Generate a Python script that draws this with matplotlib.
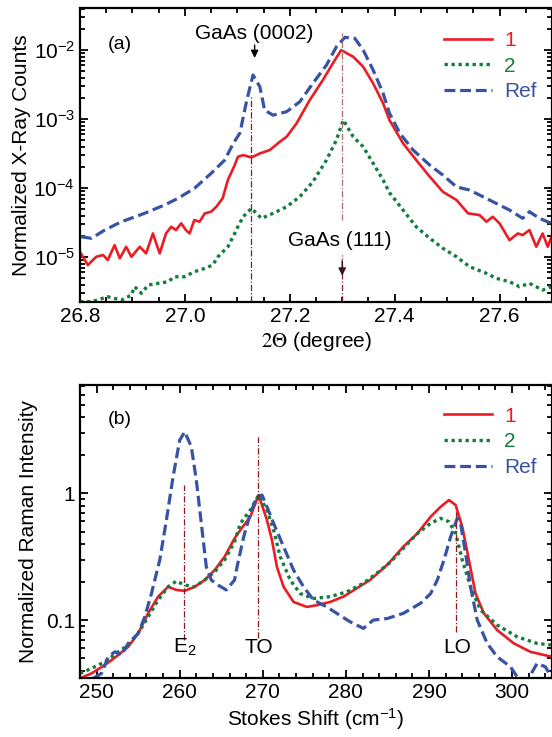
import numpy as np
import matplotlib
matplotlib.use("Agg")
import matplotlib.pyplot as plt
from matplotlib.ticker import MultipleLocator, LogLocator, FuncFormatter, NullFormatter

plt.rcParams['font.family'] = ['Liberation Sans', 'DejaVu Sans']
plt.rcParams['mathtext.fontset'] = 'stix'

# ---- (a) X-ray diffraction ----
xrd_theta_ref = [26.802, 26.822, 26.847, 26.879, 26.923, 26.961, 26.987, 27.018, 27.050, 27.076,
                 27.092, 27.105, 27.118, 27.130, 27.143, 27.152, 27.168, 27.194, 27.219, 27.244,
                 27.270, 27.289, 27.305, 27.324, 27.340, 27.359, 27.378, 27.390, 27.410, 27.435,
                 27.467, 27.492, 27.518, 27.543, 27.581, 27.619, 27.644, 27.657, 27.676, 27.699]
xrd_counts_ref = [1.97e-5, 1.87e-5, 2.46e-5, 3.25e-5, 4.30e-5, 5.68e-5, 7.1e-5, 9.9e-5, 1.63e-4, 2.55e-4,
                  4.4e-4, 6.3e-4, 1.88e-3, 4.35e-3, 2.94e-3, 1.35e-3, 1.14e-3, 1.28e-3, 1.78e-3, 3.29e-3,
                  6.06e-3, 1.12e-2, 1.53e-2, 1.48e-2, 1.0e-2, 5.13e-3, 2.36e-3, 1.22e-3, 6.21e-4, 3.56e-4,
                  2.15e-4, 1.54e-4, 1.04e-4, 9.35e-5, 6.7e-5, 4.8e-5, 3.64e-5, 4.54e-5, 3.64e-5, 3.08e-5]

xrd_theta_1 = [26.800, 26.815, 26.831, 26.844, 26.853, 26.866, 26.876, 26.888, 26.898, 26.914,
               26.926, 26.939, 26.952, 26.964, 26.974, 26.983, 26.993, 27.002, 27.009, 27.018,
               27.028, 27.038, 27.050, 27.060, 27.072, 27.082, 27.095, 27.101, 27.111, 27.127,
               27.143, 27.162, 27.181, 27.194, 27.213, 27.238, 27.263, 27.282, 27.298, 27.321,
               27.340, 27.359, 27.378, 27.390, 27.416, 27.441, 27.467, 27.492, 27.518, 27.540,
               27.562, 27.575, 27.587, 27.600, 27.619, 27.635, 27.644, 27.657, 27.670, 27.682,
               27.692, 27.699]
xrd_counts_1 = [1.19e-5, 7.66e-6, 1.01e-5, 1.07e-5, 9.05e-6, 1.49e-5, 9.57e-6, 1.41e-5, 1.01e-5, 1.41e-5,
                1.13e-5, 2.2e-5, 1.13e-5, 2.2e-5, 2.75e-5, 2.46e-5, 3.08e-5, 2.46e-5, 2.2e-5, 3.44e-5,
                3.25e-5, 4.3e-5, 4.54e-5, 5.36e-5, 7.1e-5, 1.31e-4, 2.15e-4, 2.84e-4, 3.0e-4, 2.78e-4,
                3.18e-4, 3.56e-4, 4.69e-4, 5.54e-4, 8.67e-4, 1.88e-3, 3.67e-3, 6.41e-3, 1.0e-2, 8.0e-3,
                5.73e-3, 3.29e-3, 1.69e-3, 9.7e-4, 4.45e-4, 2.55e-4, 1.46e-4, 8.83e-5, 6.7e-5, 4.3e-5,
                4.06e-5, 3.25e-5, 3.84e-5, 3.08e-5, 1.76e-5, 2.2e-5, 2.08e-5, 2.46e-5, 1.41e-5, 2.2e-5,
                1.41e-5, 1.97e-5]

xrd_theta_2 = [26.800, 26.822, 26.853, 26.879, 26.898, 26.904, 26.917, 26.930, 26.949, 26.968,
               26.980, 26.999, 27.018, 27.038, 27.053, 27.063, 27.082, 27.095, 27.101, 27.111,
               27.127, 27.146, 27.168, 27.194, 27.219, 27.244, 27.270, 27.289, 27.302, 27.321,
               27.340, 27.359, 27.378, 27.390, 27.416, 27.441, 27.467, 27.492, 27.518, 27.543,
               27.575, 27.594, 27.619, 27.638, 27.657, 27.682, 27.699]
xrd_counts_2 = [2.25e-6, 2.25e-6, 2.66e-6, 2.38e-6, 2.81e-6, 3.72e-6, 2.98e-6, 3.93e-6, 4.16e-6, 4.39e-6,
                5.18e-6, 5.18e-6, 6.12e-6, 6.86e-6, 7.66e-6, 1.01e-5, 1.41e-5, 2.2e-5, 2.75e-5, 3.84e-5,
                5.08e-5, 3.64e-5, 4.3e-5, 5.36e-5, 7.48e-5, 1.23e-4, 2.55e-4, 4.97e-4, 9.7e-4, 5.54e-4,
                3.97e-4, 2.28e-4, 1.31e-4, 8.6e-5, 4.8e-5, 2.75e-5, 1.87e-5, 1.34e-5, 1.01e-5, 7.23e-6,
                5.8e-6, 4.91e-6, 4.39e-6, 3.72e-6, 4.16e-6, 3.33e-6, 3.72e-6]

xrd_peaks = [27.127, 27.300]

# ---- (b) Raman ----
raman_shift_ref = [248.0, 250.6, 251.4, 252.2, 253.0, 253.8, 255.0, 255.8, 256.6, 257.6,
                   258.4, 259.2, 260.0, 260.6, 261.4, 262.0, 262.6, 263.2, 263.8, 264.6,
                   265.6, 266.6, 266.9, 267.7, 268.5, 269.3, 269.9, 270.5, 271.3, 272.5,
                   273.7, 274.9, 276.1, 277.7, 278.9, 280.5, 282.1, 283.3, 285.0, 286.9,
                   289.0, 290.2, 291.0, 291.8, 292.6, 293.4, 293.8, 294.4, 295.0, 295.8,
                   297.0, 298.2, 299.8, 300.6, 301.8, 303.0, 304.0, 304.8]
raman_int_ref = [0.030, 0.038, 0.0513, 0.0562, 0.053, 0.0655, 0.0785, 0.106, 0.162, 0.298,
                 0.615, 1.35, 2.63, 3.06, 2.33, 1.27, 0.58, 0.263, 0.207, 0.189,
                 0.173, 0.207, 0.263, 0.454, 0.695, 0.94, 0.97, 0.784, 0.58, 0.379,
                 0.248, 0.183, 0.144, 0.127, 0.113, 0.097, 0.086, 0.100, 0.103, 0.113,
                 0.136, 0.162, 0.207, 0.298, 0.454, 0.635, 0.58, 0.336, 0.183, 0.100,
                 0.0655, 0.0513, 0.0428, 0.0357, 0.033, 0.0455, 0.0428, 0.0347]

raman_shift_1 = [248.0, 249.4, 251.0, 252.6, 253.8, 255.0, 256.2, 257.4, 258.6, 259.6,
                 260.6, 261.8, 263.0, 264.2, 265.4, 266.6, 267.3, 268.5, 269.5, 270.5,
                 271.1, 271.7, 272.5, 273.7, 275.3, 276.5, 278.1, 279.7, 281.3, 282.9,
                 284.5, 285.3, 286.9, 288.6, 290.2, 291.4, 292.4, 293.2, 294.0, 294.8,
                 295.6, 296.6, 298.2, 300.2, 302.2, 304.8]
raman_int_1 = [0.0347, 0.038, 0.0442, 0.053, 0.0615, 0.0785, 0.113, 0.153, 0.183, 0.173,
               0.170, 0.183, 0.207, 0.248, 0.316, 0.441, 0.514, 0.654, 0.97, 0.615,
               0.428, 0.263, 0.183, 0.139, 0.127, 0.131, 0.139, 0.153, 0.178, 0.207,
               0.256, 0.288, 0.379, 0.483, 0.654, 0.784, 0.885, 0.809, 0.545, 0.298,
               0.162, 0.113, 0.0834, 0.0655, 0.0562, 0.0513]

raman_shift_2 = [248.0, 249.4, 251.0, 252.6, 253.8, 255.0, 256.2, 257.4, 258.6, 259.6,
                 260.6, 261.8, 263.0, 264.2, 265.4, 266.6, 267.3, 268.5, 269.5, 270.5,
                 271.3, 272.1, 273.3, 274.5, 276.1, 278.1, 280.1, 282.1, 283.7, 285.3,
                 286.9, 288.6, 290.2, 291.4, 292.4, 293.2, 294.0, 295.0, 296.2, 298.2,
                 300.6, 303.0, 304.8]
raman_int_2 = [0.038, 0.0416, 0.0469, 0.0562, 0.0635, 0.0785, 0.106, 0.144, 0.183, 0.203,
               0.189, 0.183, 0.207, 0.240, 0.298, 0.415, 0.58, 0.738, 0.97, 0.738,
               0.513, 0.316, 0.207, 0.162, 0.148, 0.153, 0.167, 0.195, 0.234, 0.284,
               0.368, 0.483, 0.58, 0.635, 0.597, 0.483, 0.298, 0.183, 0.12, 0.0914,
               0.0738, 0.0655, 0.0635]

raman_modes = [260.5, 269.4, 293.25]
raman_mode_labels = [r'$\mathregular{E_2}$', 'TO', 'LO']

series_labels = ['1', '2', 'Ref']
series_colors = ['#ec1c24', '#127d3c', '#3953a4']
FS = 15


def _style_axis(ax):
    ax.tick_params(which='both', direction='in', top=True, right=True, width=1.3, labelsize=FS)
    ax.tick_params(which='major', length=6)
    ax.tick_params(which='minor', length=3.5)
    for sp in ax.spines.values():
        sp.set_linewidth(1.6)


def _draw_series(ax, xs, ys):
    ax.plot(xs[0], ys[0], color=series_colors[0], lw=1.9, label=series_labels[0])
    ax.plot(xs[1], ys[1], color=series_colors[1], lw=2.4, ls=(0, (1, 1.1)), label=series_labels[1])
    ax.plot(xs[2], ys[2], color=series_colors[2], lw=2.3, ls=(0, (3.4, 1.5)), label=series_labels[2])


def _legend(ax, anchor):
    ax.legend(loc='upper right', bbox_to_anchor=anchor, frameon=False, fontsize=FS,
              handlelength=2.3, handletextpad=0.6, labelspacing=0.32, labelcolor='linecolor',
              borderaxespad=0)


def _plot_xrd(ax):
    _draw_series(ax, [xrd_theta_1, xrd_theta_2, xrd_theta_ref],
                 [xrd_counts_1, xrd_counts_2, xrd_counts_ref])
    ax.set_yscale('log')
    ax.set_xlim(26.8, 27.7)
    ax.set_ylim(2.23e-6, 0.0407)
    ax.xaxis.set_major_locator(MultipleLocator(0.2))
    ax.xaxis.set_minor_locator(MultipleLocator(0.05))
    ax.xaxis.set_major_formatter(FuncFormatter(lambda v, _: f'{v:.1f}'))
    ax.yaxis.set_major_locator(LogLocator(base=10))
    ax.yaxis.set_minor_locator(LogLocator(base=10, subs=np.arange(2, 10)))
    ax.yaxis.set_minor_formatter(NullFormatter())
    ax.yaxis.set_major_formatter(FuncFormatter(
        lambda v, _: r'$\mathregular{10^{%d}}$' % int(round(np.log10(v)))))
    _style_axis(ax)
    ax.set_xlabel(r'$2\Theta$ (degree)', fontsize=FS, labelpad=3)
    ax.set_ylabel('Normalized X-Ray Counts', fontsize=FS, labelpad=2)

    dd = (0, (5, 1.6, 1, 1.6))
    ax.axvline(xrd_peaks[0], ymin=0, ymax=0.70, color='#8b1a1a', lw=0.9, ls=dd)
    ax.axvline(xrd_peaks[1], ymin=0.28, ymax=0.915, color='#b06a6a', lw=0.9, ls=dd)
    ax.axvline(xrd_peaks[1], ymin=0, ymax=0.16, color='#8b1a1a', lw=0.9, ls=dd)

    ax.text(0.085, 0.875, '(a)', transform=ax.transAxes, ha='center', va='center', fontsize=14)
    ax.text(xrd_peaks[0] + 0.005, 1.76e-2, 'GaAs (0002)', ha='center', va='center', fontsize=FS)
    ax.annotate('', xy=(xrd_peaks[0] + 0.006, 7.0e-3), xytext=(xrd_peaks[0] + 0.006, 1.3e-2),
                arrowprops=dict(arrowstyle='-|>', color='k', lw=1.0, mutation_scale=11))
    ax.text(xrd_peaks[1] - 0.005, 1.76e-5, 'GaAs (111)', ha='center', va='center', fontsize=FS)
    ax.annotate('', xy=(xrd_peaks[1], 4.9e-6), xytext=(xrd_peaks[1], 9.7e-6),
                arrowprops=dict(arrowstyle='-|>', color='#3a1010', lw=1.0, mutation_scale=11))
    _legend(ax, (0.985, 0.95))


def _plot_raman(ax):
    _draw_series(ax, [raman_shift_1, raman_shift_2, raman_shift_ref],
                 [raman_int_1, raman_int_2, raman_int_ref])
    ax.set_yscale('log')
    ax.set_xlim(248.0, 304.8)
    ax.set_ylim(0.0347, 7.16)
    ax.xaxis.set_major_locator(MultipleLocator(10))
    ax.xaxis.set_minor_locator(MultipleLocator(2))
    ax.set_yticks([0.1, 1], ['0.1', '1'])
    ax.yaxis.set_minor_locator(LogLocator(base=10, subs=np.arange(2, 10)))
    ax.yaxis.set_minor_formatter(NullFormatter())
    _style_axis(ax)
    ax.set_xlabel(r'Stokes Shift (cm$\mathregular{^{-1}}$)', fontsize=FS, labelpad=3)
    ax.set_ylabel('Normalized Raman Intensity', fontsize=FS, labelpad=6)

    dd = (0, (5, 1.6, 1, 1.6))
    spans = [(0.131, 0.659), (0.136, 0.822), (0.159, 0.567)]
    for x, (y0, y1), lab in zip(raman_modes, spans, raman_mode_labels):
        ax.axvline(x, ymin=y0, ymax=y1, color='#8b1a1a', lw=0.9, ls=dd)
        ax.text(x + 0.1, 0.105, lab, transform=ax.get_xaxis_transform(),
                ha='center', va='center', fontsize=FS)

    ax.text(0.085, 0.881, '(b)', transform=ax.transAxes, ha='center', va='center', fontsize=14)
    _legend(ax, (0.985, 0.955))


fig = plt.figure(figsize=(5.52, 7.37), dpi=100)
ax_a = fig.add_axes([0.1449, 0.5902, 0.8551, 0.3989])
ax_b = fig.add_axes([0.1449, 0.0796, 0.8551, 0.3980])
_plot_xrd(ax_a)
_plot_raman(ax_b)
fig.savefig('out.png', dpi=100)
